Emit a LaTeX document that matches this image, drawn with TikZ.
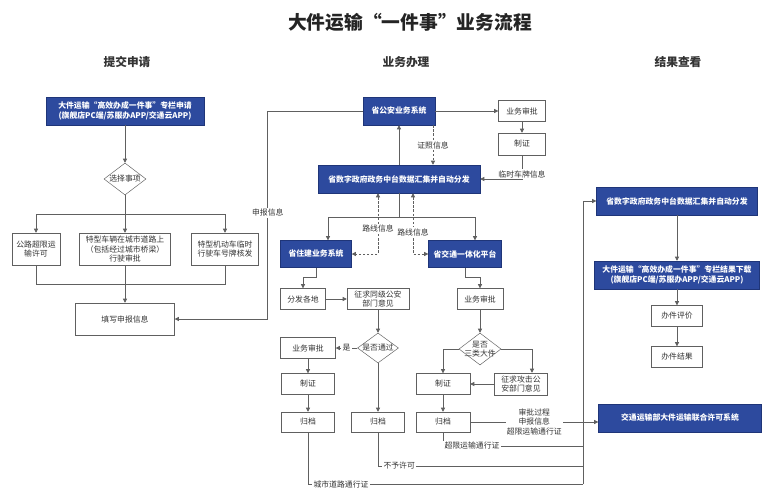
\documentclass[tikz,border=0pt]{standalone}
\usepackage{fontspec}
\setmainfont{Noto Sans CJK SC}
\usepackage{xcolor}
\usepackage{tikz}
\usetikzlibrary{positioning,arrows.meta,shapes.geometric}

\definecolor{flowblue}{HTML}{2D4A9E}
\definecolor{flowedge}{HTML}{1F3578}
\definecolor{flowline}{HTML}{606060}
\definecolor{flowtext}{HTML}{333333}

\begin{document}
\begin{tikzpicture}[x=0.03cm, y=-0.03cm,
  bluebox/.style={draw=flowedge, fill=flowblue, text=white, align=center, inner sep=1pt,
    font=\fontsize{6.7}{8.2}\selectfont\bfseries, minimum height=0.84cm},
  greybox/.style={draw=flowline, fill=white, text=flowtext, align=center, inner sep=1pt,
    font=\fontsize{6.7}{8.2}\selectfont, minimum height=0.63cm},
  choice/.style={diamond, draw=flowline, fill=white, inner sep=0pt},
  tag/.style={fill=white, text=flowtext, align=center, inner sep=1pt,
    font=\fontsize{6.7}{8.2}\selectfont},
  wire/.style={flowline, line width=0.6pt},
  flow/.style={wire, -{Triangle[length=3.5pt,width=3.5pt]}},
  flowboth/.style={wire, {Triangle[length=3.5pt,width=3.5pt]}-{Triangle[length=3.5pt,width=3.5pt]},
    dash pattern=on 2pt off 1.5pt},
  head/.style={text=flowtext, font=\fontsize{10}{12}\selectfont\bfseries}]

\fill[white] (0,0) rectangle (773,500);
\useasboundingbox (0,0) rectangle (773,500);

\node[text=flowtext!70!black, font=\fontsize{16}{19}\selectfont\bfseries] (title) at (410,22) {大件运输“一件事”业务流程};
\node[head] (head_submit) at (127,62) {提交申请};
\node[head] (head_handle) at (406,62) {业务办理};
\node[head] (head_result) at (678,62) {结果查看};

% submit column
\node[bluebox, minimum width=4.74cm] (sub_apply) at (125,111) {大件运输“高效办成一件事”专栏申请\\(旗舰店PC端/苏服办APP/交通云APP)};
\node[choice, minimum width=1.26cm, minimum height=0.96cm,
  label={[tag, fill=none]center:选择事项}] (sub_choose) at (125,179) {};
\node[greybox, minimum width=1.44cm, minimum height=0.96cm] (sub_road) at (36,249) {公路超限运\\输许可};
\node[greybox, minimum width=2.73cm, minimum height=0.96cm] (sub_city) at (125,249) {特型车辆在城市道路上\\（包括经过城市桥梁）\\行驶审批};
\node[greybox, minimum width=2.01cm, minimum height=0.96cm] (sub_plate) at (225,249) {特型机动车临时\\行驶车号牌核发};
\node[greybox, minimum width=2.97cm, minimum height=0.96cm] (sub_fill) at (125,319) {填写申报信息};

\coordinate (sub_split) at (125,214);
\coordinate (sub_merge) at (125,284);
\draw[flow] (sub_apply) -- (sub_choose);
\draw[wire] (sub_choose.south) -- (sub_split);
\draw[flow] (sub_split) -| (sub_road.north);
\draw[flow] (sub_split) -| (sub_plate.north);
\draw[flow] (sub_split) -- (sub_city.north);
\draw[wire] (sub_road.south) |- (sub_merge);
\draw[wire] (sub_plate.south) |- (sub_merge);
\draw[flow] (sub_city.south) -- (sub_fill.north);

% handling column
\node[bluebox, minimum width=2.16cm] (mid_police) at (399,111) {省公安业务系统};
\node[greybox, minimum width=1.41cm] (mid_pcheck) at (522,111) {业务审批};
\node[greybox, minimum width=1.41cm, minimum height=0.66cm] (mid_pcert) at (522,144) {制证};
\node[bluebox, minimum width=4.86cm] (mid_hub) at (399,179) {省数字政府政务中台数据汇集并自动分发};
\node[bluebox, minimum width=2.13cm, minimum height=0.81cm] (mid_house) at (316,254) {省住建业务系统};
\node[bluebox, minimum width=2.19cm, minimum height=0.81cm] (mid_trans) at (465,254) {省交通一体化平台};
\node[greybox, minimum width=1.35cm] (mid_spread) at (303,299) {分发各地};
\node[greybox, minimum width=1.86cm] (mid_ask) at (378,299) {征求同级公安\\部门意见};
\node[choice, minimum width=1.23cm, minimum height=0.9cm,
  label={[tag, fill=none]center:是否通过}] (mid_pass) at (378,348) {};
\node[greybox, minimum width=1.65cm] (mid_hcheck) at (308,348) {业务审批};
\node[greybox, minimum width=1.59cm] (mid_hcert) at (308,384) {制证};
\node[greybox, minimum width=1.59cm, minimum height=0.6cm] (mid_harch) at (308,422) {归档};
\node[greybox, minimum width=1.59cm, minimum height=0.6cm] (mid_reject) at (378,422) {归档};
\node[greybox, minimum width=1.38cm] (mid_tcheck) at (480,299) {业务审批};
\node[choice, minimum width=1.26cm, minimum height=0.96cm,
  label={[tag, fill=none]center:是否\\三类大件}] (mid_three) at (480,349) {};
\node[greybox, minimum width=1.62cm] (mid_tcert) at (443,384) {制证};
\node[greybox, minimum width=1.59cm, minimum height=0.66cm] (mid_task) at (521,384) {征求攻击公\\安部门意见};
\node[greybox, minimum width=1.62cm, minimum height=0.6cm] (mid_tarch) at (443,422) {归档};

\draw[flow] (mid_police.west) -- ++(-95,0) |- (sub_fill.east)
    node[tag, pos=0.245] {申报信息};
\draw[flow] (mid_police) -- (mid_pcheck);
\draw[flow] (mid_pcheck) -- (mid_pcert);
\draw[flow] (mid_pcert.south) |- (mid_hub.east)
    node[tag, pos=0.4] {临时车牌信息};
\draw[flow] (mid_hub) -- (mid_police);
\draw[flow, dash pattern=on 2pt off 1.5pt] ([xshift=1.02cm]mid_police.south) -- ([xshift=1.02cm]mid_hub.north)
    node[tag, midway] {证照信息};

\coordinate (mid_split) at (399,217);
\draw[wire] (mid_hub.south) -- (mid_split);
\draw[flow] (mid_split) -| ([xshift=0.36cm]mid_house.north);
\draw[flow] (mid_split) -| ([xshift=0.3cm]mid_trans.north);
\draw[flowboth] ([xshift=-0.63cm]mid_hub.south) |- (mid_house.east)
    node[tag, pos=0.29] {路线信息};
\draw[flowboth] ([xshift=0.42cm]mid_hub.south) |- (mid_trans.west)
    node[tag, pos=0.32] {路线信息};

\draw[flow] (mid_house.south) -- ++(0,10) -| (mid_spread.north);
\draw[flow] (mid_spread) -- (mid_ask);
\draw[flow] (mid_ask) -- (mid_pass);
\draw[flow] (mid_pass.west) -- (mid_hcheck.east)
    node[tag, midway] {是};
\draw[flow] (mid_pass) -- (mid_reject);
\draw[flow] (mid_hcheck) -- (mid_hcert);
\draw[flow] (mid_hcert) -- (mid_harch);

\draw[flow] (mid_trans.south) -- ++(0,10) -| (mid_tcheck.north);
\draw[flow] (mid_tcheck) -- (mid_three);
\draw[flow] (mid_three.west) -| (mid_tcert.north);
\draw[flow] (mid_three.east) -| ([xshift=0.33cm]mid_task.north);
\draw[flow] (mid_task) -- (mid_tcert);
\draw[flow] (mid_tcert) -- (mid_tarch);

% result column
\node[bluebox, minimum width=4.83cm] (res_hub) at (677,201) {省数字政府政务中台数据汇集并自动分发};
\node[bluebox, minimum width=4.95cm] (res_down) at (677,275) {大件运输“高效办成一件事”专栏结果下载\\(旗舰店PC端/苏服办APP/交通云APP)};
\node[greybox, minimum width=1.53cm] (res_rate) at (677,316) {办件评价};
\node[greybox, minimum width=1.53cm] (res_done) at (677,357) {办件结果};
\node[bluebox, minimum width=4.89cm] (res_mot) at (680,418) {交通运输部大件运输联合许可系统};

\draw[flow] (res_hub) -- (res_down);
\draw[flow] (res_down) -- (res_rate);
\draw[flow] (res_rate) -- (res_done);
\draw[flow] (mid_tarch.east) -- (mid_tarch.east -| res_mot.west)
    node[tag, midway] {审批过程\\申报信息\\超限运输通行证};

\coordinate (bus_a) at (583,446);
\coordinate (bus_b) at (583,466);
\coordinate (bus_c) at (583,484);
\draw[wire] (mid_tarch.south) |- (bus_a)
    node[tag, pos=0.5, anchor=west] {超限运输通行证};
\draw[wire] (mid_reject.south) |- (bus_b)
    node[tag, pos=0.5, anchor=west, xshift=0.12cm] {不予许可};
\draw[wire] (mid_harch.south) |- (bus_c)
    node[tag, pos=0.5, anchor=west, xshift=0.12cm] {城市道路通行证};
\draw[flow] (bus_c) |- (res_hub.west);

\end{tikzpicture}
\end{document}
